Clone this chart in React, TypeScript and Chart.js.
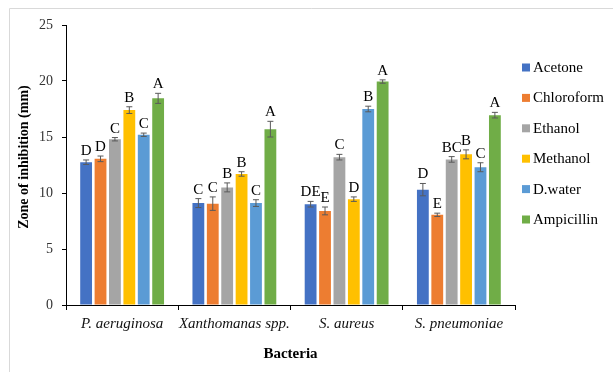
import React, { useEffect, useRef } from "react";
import { Chart, registerables } from "chart.js";

Chart.register(...registerables);

const categories = ["P. aeruginosa", "Xanthomanas spp.", "S. aureus", "S. pneumoniae"];
const seriesNames = ["Acetone", "Chloroform", "Ethanol", "Methanol", "D.water", "Ampicillin"];
const seriesColors = ["#4472C4", "#ED7D31", "#A5A5A5", "#FFC000", "#5B9BD5", "#70AD47"];

const acetone = [12.75, 9.1, 9.0, 10.3];
const chloroform = [13.05, 9.05, 8.4, 8.05];
const ethanol = [14.8, 10.5, 13.2, 13.0];
const methanol = [17.4, 11.7, 9.45, 13.45];
const dwater = [15.2, 9.1, 17.5, 12.3];
const ampicillin = [18.45, 15.7, 19.95, 16.95];

const acetoneErr = [0.2, 0.4, 0.25, 0.55];
const chloroformErr = [0.25, 0.6, 0.35, 0.15];
const ethanolErr = [0.15, 0.4, 0.25, 0.25];
const methanolErr = [0.3, 0.2, 0.2, 0.4];
const dwaterErr = [0.15, 0.3, 0.25, 0.4];
const ampicillinErr = [0.45, 0.7, 0.15, 0.25];

const acetoneLetters = ["D", "C", "DE", "D"];
const chloroformLetters = ["D", "C", "E", "E"];
const ethanolLetters = ["C", "B", "C", "BC"];
const methanolLetters = ["B", "B", "D", "B"];
const dwaterLetters = ["C", "C", "B", "C"];
const ampicillinLetters = ["A", "A", "A", "A"];

const yTicks = [0, 5, 10, 15, 20, 25];

const seriesValues = [acetone, chloroform, ethanol, methanol, dwater, ampicillin];
const seriesErrors = [acetoneErr, chloroformErr, ethanolErr, methanolErr, dwaterErr, ampicillinErr];
const seriesLetters = [acetoneLetters, chloroformLetters, ethanolLetters, methanolLetters, dwaterLetters, ampicillinLetters];

const SERIF = "'Liberation Serif', 'Times New Roman', serif";

const decorPlugin = {
  id: "decor",
  afterDatasetsDraw(chart: any) {
    const ctx = chart.ctx;
    const yScale = chart.scales.y;
    ctx.save();
    chart.data.datasets.forEach((ds: any, i: number) => {
      const meta = chart.getDatasetMeta(i);
      meta.data.forEach((el: any, j: number) => {
        const v = ds.data[j];
        const e = ds.errors[j];
        const x = el.x;
        const yT = yScale.getPixelForValue(v + e);
        const yB = yScale.getPixelForValue(v - e);
        ctx.strokeStyle = "#5a5a5a";
        ctx.lineWidth = 1;
        ctx.beginPath();
        ctx.moveTo(x, yT);
        ctx.lineTo(x, yB);
        ctx.moveTo(x - 3, yT);
        ctx.lineTo(x + 3, yT);
        ctx.moveTo(x - 3, yB);
        ctx.lineTo(x + 3, yB);
        ctx.stroke();
        ctx.fillStyle = "#000";
        ctx.font = `15px ${SERIF}`;
        ctx.textAlign = "center";
        ctx.textBaseline = "alphabetic";
        ctx.fillText(ds.letters[j], x, yT - 5);
      });
    });
    ctx.restore();
  },
  afterDraw(chart: any) {
    const ctx = chart.ctx;
    const area = chart.chartArea;
    ctx.save();
    ctx.strokeStyle = "#d9d9d9";
    ctx.lineWidth = 1;
    ctx.beginPath();
    ctx.moveTo(9.5, 372);
    ctx.lineTo(9.5, 8.5);
    ctx.lineTo(613, 8.5);
    ctx.stroke();
    ctx.fillStyle = "#000";
    ctx.font = `bold 14px ${SERIF}`;
    ctx.textAlign = "center";
    ctx.textBaseline = "middle";
    ctx.save();
    ctx.translate(24, 157);
    ctx.rotate(-Math.PI / 2);
    ctx.fillText("Zone of inhibition (mm)", 0, 0);
    ctx.restore();
    ctx.font = `bold 15px ${SERIF}`;
    ctx.fillText("Bacteria", (area.left + area.right) / 2, 354);
    ctx.font = `15px ${SERIF}`;
    ctx.textAlign = "left";
    chart.data.datasets.forEach((ds: any, i: number) => {
      const cy = area.top + 42.5 + i * 30.4;
      ctx.fillStyle = ds.backgroundColor;
      ctx.fillRect(area.right + 7, cy - 4, 8, 8);
      ctx.fillStyle = "#000";
      ctx.fillText(ds.label, area.right + 18, cy + 0.5);
    });
    ctx.restore();
  },
};

export default function App() {
  const ref = useRef<HTMLCanvasElement | null>(null);
  useEffect(() => {
    if (!ref.current) return;
    const chart = new Chart(ref.current, {
      type: "bar",
      data: {
        labels: categories,
        datasets: seriesNames.map((name, i) => ({
          label: name,
          data: seriesValues[i],
          errors: seriesErrors[i],
          letters: seriesLetters[i],
          backgroundColor: seriesColors[i],
          borderWidth: 0,
          barPercentage: 0.82,
          categoryPercentage: 0.77,
        })) as any,
      },
      options: {
        responsive: false,
        animation: false,
        events: [],
        layout: { padding: { left: 0, top: 25, right: 98, bottom: 0 } },
        plugins: { legend: { display: false }, tooltip: { enabled: false }, title: { display: false } },
        scales: {
          x: {
            offset: true,
            afterFit: (s: any) => {
              s.height = 67;
            },
            grid: { offset: true, drawOnChartArea: false, drawTicks: true, tickLength: 5, color: "#000" },
            border: { color: "#000", width: 1 },
            ticks: {
              color: "#111",
              padding: 5,
              maxRotation: 0,
              minRotation: 0,
              autoSkip: false,
              font: { family: SERIF, size: 15, style: "italic" },
            },
          },
          y: {
            min: 0,
            max: 25,
            afterFit: (s: any) => {
              s.width = 66;
            },
            afterBuildTicks: (s: any) => {
              s.ticks = yTicks.map((v) => ({ value: v }));
            },
            grid: { drawOnChartArea: false, drawTicks: true, tickLength: 4, color: "#000" },
            border: { color: "#000", width: 1 },
            ticks: { color: "#333", padding: 9, font: { family: SERIF, size: 14 } },
          },
        },
      },
      plugins: [decorPlugin],
    });
    return () => chart.destroy();
  }, []);
  return (
    <div style={{ position: "absolute", left: 0, top: 0, width: 613, height: 372, background: "#fff" }}>
      <canvas ref={ref} width={613} height={372} style={{ width: 613, height: 372, display: "block" }} />
    </div>
  );
}
